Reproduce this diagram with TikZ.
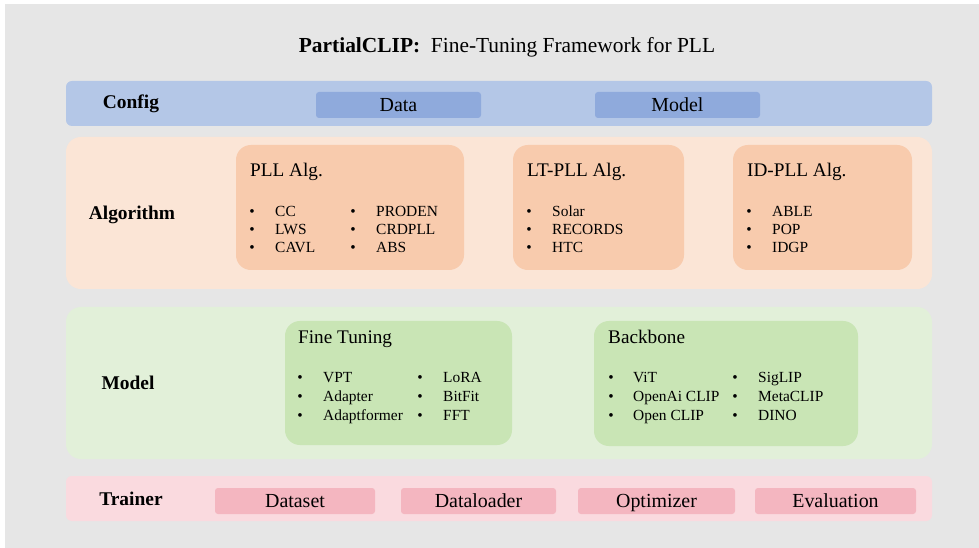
\documentclass[tikz,border=0pt]{standalone}
\usepackage{fontspec}
\setmainfont{Liberation Serif}
\newfontfamily\timesfont{Liberation Serif}
\begin{document}
\begin{tikzpicture}[x=1bp,y=-1bp,
  every node/.style={font=\timesfont},
  bandlabel/.style={font=\timesfont\fontsize{19.5}{23}\selectfont\bfseries, anchor=base},
  chip/.style={anchor=base, font=\timesfont\fontsize{20}{24}\selectfont},
  grouptitle/.style={anchor=base west, inner sep=0pt, font=\timesfont\fontsize{19.3}{23}\selectfont},
  item/.style={anchor=base west, font=\timesfont\fontsize{15.5}{18}\selectfont, inner sep=0pt},
  dot/.style={anchor=base, font=\timesfont\fontsize{15.5}{18}\selectfont, inner sep=0pt}
]
\definecolor{bggray}{HTML}{E6E6E6}
\definecolor{cfgband}{HTML}{B4C7E7}
\definecolor{cfgchip}{HTML}{8FAADC}
\definecolor{algband}{HTML}{FBE5D6}
\definecolor{algbox}{HTML}{F8CBAD}
\definecolor{modband}{HTML}{E2F0D9}
\definecolor{modbox}{HTML}{C9E5B5}
\definecolor{trnband}{HTML}{FADADF}
\definecolor{trnchip}{HTML}{F4B6C0}

\useasboundingbox (0,0) rectangle (979,548);
\fill[white] (0,0) rectangle (979,548);
\fill[bggray] (5,4) rectangle (979,548);

% title
\node[anchor=base, font=\timesfont\fontsize{21.5}{25}\selectfont] (title) at (507,52.5)
  {\textbf{PartialCLIP:}\ \ Fine-Tuning Framework for PLL};

% ---- Config row
\fill[cfgband, rounded corners=6] (66,81) rectangle (932,126);
\node[bandlabel] (config) at (131,109) {Config};
\fill[cfgchip, rounded corners=3] (316,92) rectangle (481,118);
\node[chip] (data) at (398.5,111.5) {Data};
\fill[cfgchip, rounded corners=3] (595,92) rectangle (760,118);
\node[chip] (cmodel) at (677.5,111.5) {Model};

% ---- Algorithm row
\fill[algband, rounded corners=15] (66,137) rectangle (932,289);
\node[bandlabel] (algorithm) at (132,220) {Algorithm};
\fill[algbox, rounded corners=15] (236,145) rectangle (464,270);
\fill[algbox, rounded corners=15] (513,145) rectangle (684,270);
\fill[algbox, rounded corners=15] (733,145) rectangle (912,270);
\node[grouptitle] (pll) at (250,177) {PLL Alg.};
\node[grouptitle] (ltpll) at (527,177) {LT-PLL Alg.};
\node[grouptitle] (idpll) at (747,177) {ID-PLL Alg.};

\foreach \bx/\tx/\a/\b/\c [count=\k] in {
  252/275/CC/LWS/CAVL,
  353/376/PRODEN/CRDPLL/ABS,
  529/552/Solar/RECORDS/HTC,
  749/772/ABLE/POP/IDGP}{
  \foreach \t/\yy [count=\j] in {\a/217,\b/235,\c/253}{
    \node[dot] (ad\k\j) at (\bx,\yy) {\textbullet};
    \node[item] (ai\k\j) at (\tx,\yy) {\t};
  }
}

% ---- Model row
\fill[modband, rounded corners=15] (66,307) rectangle (932,459);
\node[bandlabel] (model) at (128,389) {Model};
\fill[modbox, rounded corners=15] (285,321) rectangle (512,445);
\fill[modbox, rounded corners=15] (594,321) rectangle (858,446);
\node[grouptitle] (ft) at (298,344) {Fine Tuning};
\node[grouptitle] (bb) at (608,344) {Backbone};

\foreach \bx/\tx/\a/\b/\c [count=\k] in {
  300/323/VPT/Adapter/Adaptformer,
  420/443/LoRA/BitFit/FFT,
  611/633/ViT/OpenAi CLIP/Open CLIP,
  735/758/SigLIP/MetaCLIP/DINO}{
  \foreach \t/\yy [count=\j] in {\a/383,\b/401,\c/420}{
    \node[dot] (md\k\j) at (\bx,\yy) {\textbullet};
    \node[item] (mi\k\j) at (\tx,\yy) {\t};
  }
}

% ---- Trainer row
\fill[trnband, rounded corners=6] (66,476) rectangle (932,521);
\node[bandlabel] (trainer) at (131,505) {Trainer};
\foreach \xa/\xb/\t [count=\k] in {215/375/Dataset,401/556/Dataloader,578/735/Optimizer,755/916/Evaluation}{
  \fill[trnchip, rounded corners=3] (\xa,488) rectangle (\xb,514);
  \node[chip] (tc\k) at ({(\xa+\xb)/2},507.5) {\t};
}
\end{tikzpicture}
\end{document}
